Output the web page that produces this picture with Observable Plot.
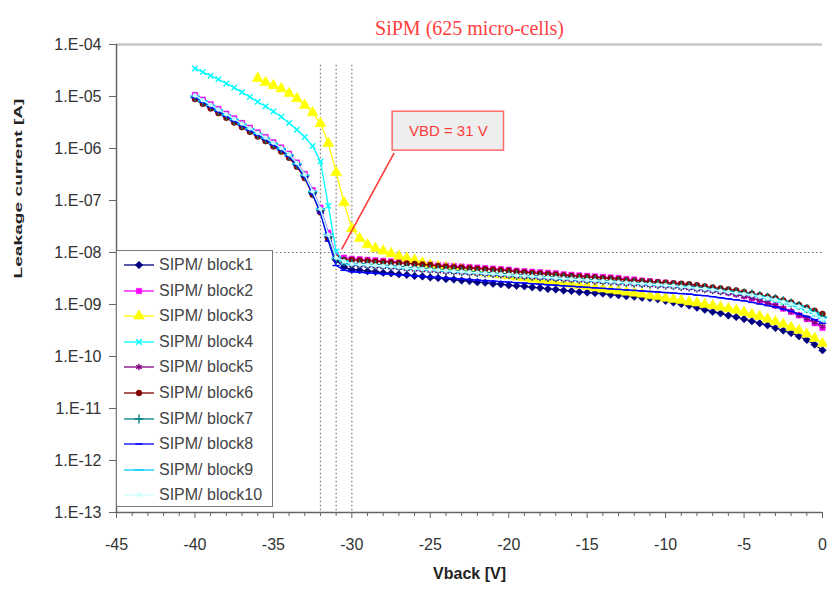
<!DOCTYPE html>
<html><head><meta charset="utf-8">
<script src="https://cdn.jsdelivr.net/npm/d3@7"></script>
<script src="https://cdn.jsdelivr.net/npm/@observablehq/plot@0.6"></script>
<style>
body{margin:0;background:#fff;}
#wrap{position:relative;width:827px;height:594px;font-family:"Liberation Sans",Arial,sans-serif;}
#legend{position:absolute;left:116px;top:250px;width:157px;height:257px;background:#fff;border:1.5px solid #7a7a7a;box-sizing:border-box;}
.item{position:absolute;left:0;height:22px;display:flex;align-items:center;font-size:16px;color:#444;white-space:nowrap;}
.item svg{margin-left:6px;margin-right:4px;}
</style></head><body><div id="wrap"></div>
<script>
// ---- data (leakage current stored as log10 of I in A) ----
const title = "SiPM (625 micro-cells)";
const xLabel = "Vback [V]";
const yLabel = "Leakage current [A]";
const seriesNames = ["SIPM/ block1","SIPM/ block2","SIPM/ block3","SIPM/ block4","SIPM/ block5","SIPM/ block6","SIPM/ block7","SIPM/ block8","SIPM/ block9","SIPM/ block10"];
const seriesColors = ["#000080","#ff00ff","#ffff00","#00ffff","#800080","#800000","#008080","#0000ff","#00ccff","#ccffff"];
const seriesSymbols = ["diamond2","square","triangle","times","asterisk","circle","plus","dash","dash","circle"];

const vback = [-40,-39.5,-39,-38.5,-38,-37.5,-37,-36.5,-36,-35.5,-35,-34.5,-34,-33.5,-33,-32.5,-32,-31.5,-31,-30.5,
  -30,-29.5,-29,-28.5,-28,-27.5,-27,-26.5,-26,-25.5,-25,-24.5,-24,-23.5,-23,-22.5,-22,-21.5,-21,-20.5,
  -20,-19.5,-19,-18.5,-18,-17.5,-17,-16.5,-16,-15.5,-15,-14.5,-14,-13.5,-13,-12.5,-12,-11.5,-11,-10.5,
  -10,-9.5,-9,-8.5,-8,-7.5,-7,-6.5,-6,-5.5,-5,-4.5,-4,-3.5,-3,-2.5,-2,-1.5,-1,-0.5,0];

const block1 = [-5.01,-5.10,-5.19,-5.28,-5.37,-5.46,-5.55,-5.64,-5.73,-5.82,-5.92,-6.02,-6.14,-6.31,-6.54,-6.86,-7.20,-7.72,-8.15,-8.28,
  -8.33,-8.34,-8.36,-8.37,-8.39,-8.40,-8.42,-8.43,-8.45,-8.46,-8.48,-8.49,-8.51,-8.52,-8.54,-8.55,-8.57,-8.58,-8.60,-8.61,
  -8.63,-8.64,-8.65,-8.67,-8.68,-8.70,-8.71,-8.73,-8.74,-8.76,-8.77,-8.78,-8.79,-8.81,-8.82,-8.84,-8.85,-8.87,-8.88,-8.90,
  -8.93,-8.96,-8.99,-9.02,-9.06,-9.10,-9.14,-9.17,-9.21,-9.24,-9.28,-9.32,-9.36,-9.40,-9.45,-9.50,-9.55,-9.61,-9.68,-9.77,-9.88];
const block2 = [-4.97,-5.06,-5.15,-5.24,-5.33,-5.42,-5.51,-5.60,-5.69,-5.78,-5.88,-5.98,-6.10,-6.27,-6.49,-6.80,-7.14,-7.62,-8.05,-8.10,
  -8.12,-8.13,-8.14,-8.15,-8.16,-8.17,-8.18,-8.19,-8.20,-8.21,-8.22,-8.24,-8.25,-8.26,-8.27,-8.28,-8.29,-8.30,-8.31,-8.32,
  -8.33,-8.35,-8.36,-8.37,-8.38,-8.39,-8.40,-8.42,-8.43,-8.44,-8.45,-8.46,-8.47,-8.48,-8.49,-8.51,-8.52,-8.54,-8.55,-8.57,
  -8.58,-8.60,-8.61,-8.63,-8.65,-8.68,-8.71,-8.74,-8.77,-8.80,-8.84,-8.88,-8.92,-8.97,-9.02,-9.08,-9.14,-9.21,-9.28,-9.36,-9.45];
const block3 = [null,null,null,null,null,null,null,null,-4.65,-4.73,-4.79,-4.85,-4.94,-5.04,-5.17,-5.31,-5.52,-5.90,-6.46,-7.04,
  -7.54,-7.73,-7.85,-7.92,-7.97,-8.02,-8.07,-8.11,-8.15,-8.20,-8.24,-8.27,-8.29,-8.31,-8.33,-8.35,-8.37,-8.39,-8.41,-8.43,
  -8.45,-8.47,-8.49,-8.51,-8.53,-8.55,-8.57,-8.59,-8.61,-8.63,-8.65,-8.68,-8.70,-8.72,-8.74,-8.76,-8.78,-8.80,-8.83,-8.85,
  -8.88,-8.90,-8.92,-8.95,-8.97,-9.00,-9.02,-9.05,-9.08,-9.11,-9.15,-9.19,-9.23,-9.28,-9.33,-9.38,-9.44,-9.50,-9.57,-9.65,-9.75];
const block4 = [-4.46,-4.53,-4.60,-4.67,-4.75,-4.83,-4.92,-5.01,-5.10,-5.19,-5.29,-5.39,-5.51,-5.64,-5.78,-5.95,-6.25,-7.10,-7.98,-8.18,
  -8.22,-8.23,-8.24,-8.25,-8.26,-8.27,-8.28,-8.30,-8.31,-8.32,-8.33,-8.34,-8.35,-8.36,-8.37,-8.38,-8.39,-8.40,-8.41,-8.42,
  -8.43,-8.44,-8.45,-8.46,-8.47,-8.48,-8.49,-8.50,-8.51,-8.52,-8.53,-8.54,-8.55,-8.56,-8.57,-8.58,-8.59,-8.60,-8.61,-8.62,
  -8.63,-8.64,-8.66,-8.67,-8.69,-8.70,-8.72,-8.74,-8.76,-8.78,-8.80,-8.82,-8.85,-8.88,-8.91,-8.95,-8.99,-9.04,-9.10,-9.18,-9.28];
const block5 = [-5.00,-5.09,-5.18,-5.27,-5.36,-5.45,-5.54,-5.63,-5.72,-5.81,-5.91,-6.01,-6.13,-6.30,-6.52,-6.84,-7.18,-7.68,-8.12,-8.17,
  -8.24,-8.25,-8.26,-8.27,-8.28,-8.29,-8.30,-8.32,-8.33,-8.34,-8.35,-8.36,-8.37,-8.38,-8.39,-8.40,-8.41,-8.42,-8.43,-8.44,
  -8.45,-8.46,-8.47,-8.48,-8.49,-8.50,-8.51,-8.52,-8.53,-8.54,-8.55,-8.56,-8.57,-8.58,-8.59,-8.60,-8.61,-8.62,-8.63,-8.64,
  -8.65,-8.66,-8.68,-8.69,-8.71,-8.72,-8.74,-8.76,-8.78,-8.81,-8.84,-8.88,-8.92,-8.97,-9.02,-9.07,-9.13,-9.20,-9.27,-9.34,-9.42];
const block6 = [-5.05,-5.14,-5.23,-5.32,-5.41,-5.50,-5.59,-5.68,-5.77,-5.86,-5.96,-6.06,-6.18,-6.35,-6.57,-6.89,-7.23,-7.74,-8.10,-8.14,
  -8.14,-8.15,-8.16,-8.17,-8.18,-8.19,-8.20,-8.21,-8.22,-8.23,-8.24,-8.26,-8.27,-8.28,-8.29,-8.30,-8.31,-8.32,-8.33,-8.34,
  -8.35,-8.37,-8.38,-8.39,-8.40,-8.41,-8.42,-8.44,-8.45,-8.46,-8.47,-8.48,-8.49,-8.50,-8.51,-8.53,-8.54,-8.55,-8.56,-8.57,
  -8.58,-8.59,-8.60,-8.61,-8.63,-8.65,-8.67,-8.69,-8.71,-8.73,-8.76,-8.79,-8.82,-8.85,-8.88,-8.92,-8.96,-9.01,-9.06,-9.12,-9.18];
const block7 = [-5.01,-5.10,-5.19,-5.28,-5.37,-5.46,-5.55,-5.64,-5.73,-5.82,-5.92,-6.02,-6.14,-6.31,-6.53,-6.85,-7.19,-7.70,-8.13,-8.18,
  -8.21,-8.22,-8.23,-8.24,-8.25,-8.26,-8.27,-8.29,-8.30,-8.31,-8.32,-8.33,-8.34,-8.35,-8.36,-8.37,-8.38,-8.39,-8.40,-8.41,
  -8.42,-8.43,-8.44,-8.45,-8.46,-8.47,-8.48,-8.49,-8.50,-8.51,-8.52,-8.53,-8.54,-8.55,-8.56,-8.57,-8.58,-8.59,-8.60,-8.61,
  -8.62,-8.63,-8.64,-8.65,-8.67,-8.68,-8.70,-8.72,-8.74,-8.76,-8.78,-8.80,-8.83,-8.86,-8.89,-8.93,-8.97,-9.02,-9.08,-9.15,-9.24];
const block8 = [-5.02,-5.11,-5.20,-5.29,-5.38,-5.47,-5.56,-5.65,-5.74,-5.83,-5.93,-6.03,-6.15,-6.32,-6.55,-6.88,-7.24,-7.78,-8.25,-8.34,
  -8.37,-8.38,-8.39,-8.40,-8.41,-8.42,-8.43,-8.44,-8.45,-8.46,-8.47,-8.48,-8.49,-8.50,-8.51,-8.52,-8.53,-8.54,-8.55,-8.56,
  -8.57,-8.58,-8.59,-8.60,-8.61,-8.62,-8.63,-8.64,-8.65,-8.66,-8.67,-8.68,-8.69,-8.70,-8.71,-8.72,-8.73,-8.74,-8.75,-8.76,
  -8.77,-8.78,-8.79,-8.80,-8.82,-8.83,-8.85,-8.87,-8.89,-8.91,-8.93,-8.96,-8.99,-9.02,-9.05,-9.09,-9.13,-9.18,-9.23,-9.29,-9.36];
const block9 = [-4.99,-5.08,-5.17,-5.26,-5.35,-5.44,-5.53,-5.62,-5.71,-5.80,-5.90,-6.00,-6.12,-6.29,-6.51,-6.82,-7.16,-7.65,-8.10,-8.16,
  -8.23,-8.24,-8.25,-8.26,-8.27,-8.28,-8.29,-8.31,-8.32,-8.33,-8.34,-8.35,-8.36,-8.37,-8.38,-8.39,-8.40,-8.41,-8.42,-8.43,
  -8.44,-8.45,-8.46,-8.47,-8.48,-8.49,-8.50,-8.51,-8.52,-8.53,-8.54,-8.55,-8.56,-8.57,-8.58,-8.59,-8.60,-8.61,-8.62,-8.63,
  -8.64,-8.65,-8.66,-8.67,-8.69,-8.70,-8.72,-8.74,-8.76,-8.78,-8.80,-8.82,-8.85,-8.88,-8.91,-8.95,-8.99,-9.04,-9.10,-9.17,-9.26];
const block10 = [-4.98,-5.07,-5.16,-5.25,-5.34,-5.43,-5.52,-5.61,-5.70,-5.79,-5.89,-5.99,-6.11,-6.28,-6.50,-6.82,-7.16,-7.66,-8.10,-8.17,
  -8.22,-8.23,-8.24,-8.25,-8.26,-8.27,-8.28,-8.30,-8.31,-8.32,-8.33,-8.34,-8.35,-8.36,-8.37,-8.38,-8.39,-8.40,-8.41,-8.42,
  -8.43,-8.44,-8.45,-8.46,-8.47,-8.48,-8.49,-8.50,-8.51,-8.52,-8.53,-8.54,-8.55,-8.56,-8.57,-8.58,-8.59,-8.60,-8.61,-8.62,
  -8.63,-8.64,-8.66,-8.67,-8.69,-8.70,-8.72,-8.74,-8.76,-8.78,-8.80,-8.82,-8.85,-8.88,-8.91,-8.95,-8.99,-9.04,-9.10,-9.18,-9.28];
const seriesLog = [block1,block2,block3,block4,block5,block6,block7,block8,block9,block10];

const yTicks = [1e-4,1e-5,1e-6,1e-7,1e-8,1e-9,1e-10,1e-11,1e-12,1e-13];
const yTickLabels = ["1.E-04","1.E-05","1.E-06","1.E-07","1.E-08","1.E-09","1.E-10","1.E-11","1.E-12","1.E-13"];
const xTicks = [-45,-40,-35,-30,-25,-20,-15,-10,-5,0];
const xTickLabels = ["-45","-40","-35","-30","-25","-20","-15","-10","-5","0"];
const xMinorTicks = [-44,-43,-42,-41,-39,-38,-37,-36,-34,-33,-32,-31,-29,-28,-27,-26,-24,-23,-22,-21,-19,-18,-17,-16,-14,-13,-12,-11,-9,-8,-7,-6,-4,-3,-2,-1];
const vbdGuides = [-32, -31, -30];          // dotted vertical guides (V)
const guideTop = 4e-5;                      // upper end of those guides (A)
const thresholdCurrent = 1e-8;              // dotted horizontal line (A)
const annotation = [{text: "VBD = 31 V", x1: -27.4, x2: -20.3, y1: 5.1e-6, y2: 9.1e-7, cx: -23.85, cy: 2.15e-6,
  fromX: -27.3, fromY: 8.2e-7, toX: -30.65, toY: 1.15e-8}];

// ---- build ----
const dash = {draw(ctx, size) { const w = Math.sqrt(size / Math.PI) * 1.4; ctx.moveTo(-w, 0); ctx.lineTo(w, 0); }};
const symOf = s => s === "dash" ? dash : s;
const markerStyle = [
  {r: 3.4, filled: true}, {r: 3.0, filled: true}, {r: 4.0, filled: true}, {r: 2.6, filled: false},
  {r: 3.0, filled: false}, {r: 2.9, filled: true}, {r: 3.0, filled: false}, {r: 2.6, filled: false},
  {r: 3.4, filled: false}, {r: 2.0, filled: true}];

const tables = seriesLog.map(arr => vback.map((v, i) => ({v, I: arr[i] == null ? null : Math.pow(10, arr[i])})).filter(d => d.I != null));

const seriesMarks = [];
tables.forEach((t, k) => {
  const c = seriesColors[k], ms = markerStyle[k];
  seriesMarks.push(Plot.line(t, {x: "v", y: "I", stroke: c, strokeWidth: 1.3}));
  seriesMarks.push(Plot.dot(t, {x: "v", y: "I", symbol: symOf(seriesSymbols[k]), r: ms.r,
    fill: ms.filled ? c : "none", stroke: c, strokeWidth: ms.filled ? 0.6 : 1.4}));
});

const plot = Plot.plot({
  width: 827, height: 594,
  marginLeft: 116, marginRight: 5, marginTop: 44, marginBottom: 82,
  style: {fontFamily: '"Liberation Sans", Arial, sans-serif', fontSize: "16px", color: "#333", background: "#fff", overflow: "visible"},
  x: {domain: [-45, 0]},
  y: {type: "log", domain: [1e-13, 1e-4]},
  marks: [
    Plot.ruleY([1e-4], {stroke: "#c8c8c8", strokeWidth: 2.5}),
    Plot.ruleY([thresholdCurrent], {stroke: "#777", strokeDasharray: "1.5,2.5", strokeWidth: 1.2}),
    Plot.ruleX(vbdGuides, {x: d => d, y1: guideTop, y2: 1e-13, stroke: "#777", strokeDasharray: "1.5,2.5", strokeWidth: 1.2}),
    ...seriesMarks,
    Plot.link(annotation, {x1: "fromX", y1: "fromY", x2: "toX", y2: "toY", stroke: "#ff3b3b", strokeWidth: 1.6}),
    Plot.rect(annotation, {x1: "x1", x2: "x2", y1: "y1", y2: "y2", fill: "#eeeeee", stroke: "#ff6a6a", strokeWidth: 1.5}),
    Plot.text(annotation, {x: "cx", y: "cy", text: "text", fill: "#ff3b3b", fontSize: 15}),
    Plot.ruleX([-45], {stroke: "#666", strokeWidth: 1.5}),
    Plot.ruleY([1e-13], {stroke: "#666", strokeWidth: 1.5}),
    Plot.axisY({ticks: yTicks, tickFormat: d => yTickLabels[yTicks.indexOf(d)], tickSize: 7, tickPadding: 8, label: null, fontSize: 16, stroke: "#666"}),
    Plot.axisX({ticks: xMinorTicks, tickFormat: () => "", tickSize: 4, label: null, stroke: "#666"}),
    Plot.axisX({ticks: xTicks, tickFormat: d => xTickLabels[xTicks.indexOf(d)], tickSize: 6, tickPadding: 20, label: null, fontSize: 16, stroke: "#666"}),
    Plot.text([title], {frameAnchor: "top", dy: -24, fill: "#ff4040", fontFamily: '"Liberation Serif", serif', fontSize: 20}),
    Plot.text([xLabel], {frameAnchor: "bottom", dy: 66, fontWeight: "bold", fontSize: 16, fill: "#222"}),
    Plot.text([yLabel], {frameAnchor: "left", dx: -98, rotate: -90, fontWeight: "bold", fontSize: 11, fill: "#222"})
  ]
});

const wrap = document.getElementById("wrap");
wrap.appendChild(plot);
d3.select(plot).selectAll("text").filter(function() { return this.textContent === yLabel; })
  .attr("textLength", 180).attr("lengthAdjust", "spacingAndGlyphs");

// legend (HTML overlay inside the plot area, as in the reference)
const legend = document.createElement("div");
legend.id = "legend";
wrap.appendChild(legend);
seriesNames.forEach((name, k) => {
  const c = seriesColors[k], ms = markerStyle[k];
  const row = document.createElement("div");
  row.className = "item";
  row.style.top = (3 + k * 25.6) + "px";
  const svg = d3.create("svg").attr("width", 32).attr("height", 20);
  svg.append("line").attr("x1", 1).attr("x2", 31).attr("y1", 10).attr("y2", 10).attr("stroke", c).attr("stroke-width", 1.3);
  const s = seriesSymbols[k];
  const typeMap = {diamond2: d3.symbolDiamond2, square: d3.symbolSquare, triangle: d3.symbolTriangle, times: d3.symbolTimes,
    asterisk: d3.symbolAsterisk, circle: d3.symbolCircle, plus: d3.symbolPlus, dash: dash};
  svg.append("path").attr("transform", "translate(16,10)")
    .attr("d", d3.symbol(typeMap[s], ms.r * ms.r * Math.PI)())
    .attr("fill", ms.filled ? c : "none").attr("stroke", c).attr("stroke-width", ms.filled ? 0.6 : 1.4);
  row.appendChild(svg.node());
  const span = document.createElement("span");
  span.textContent = name;
  row.appendChild(span);
  legend.appendChild(row);
});
</script>
</body></html>
